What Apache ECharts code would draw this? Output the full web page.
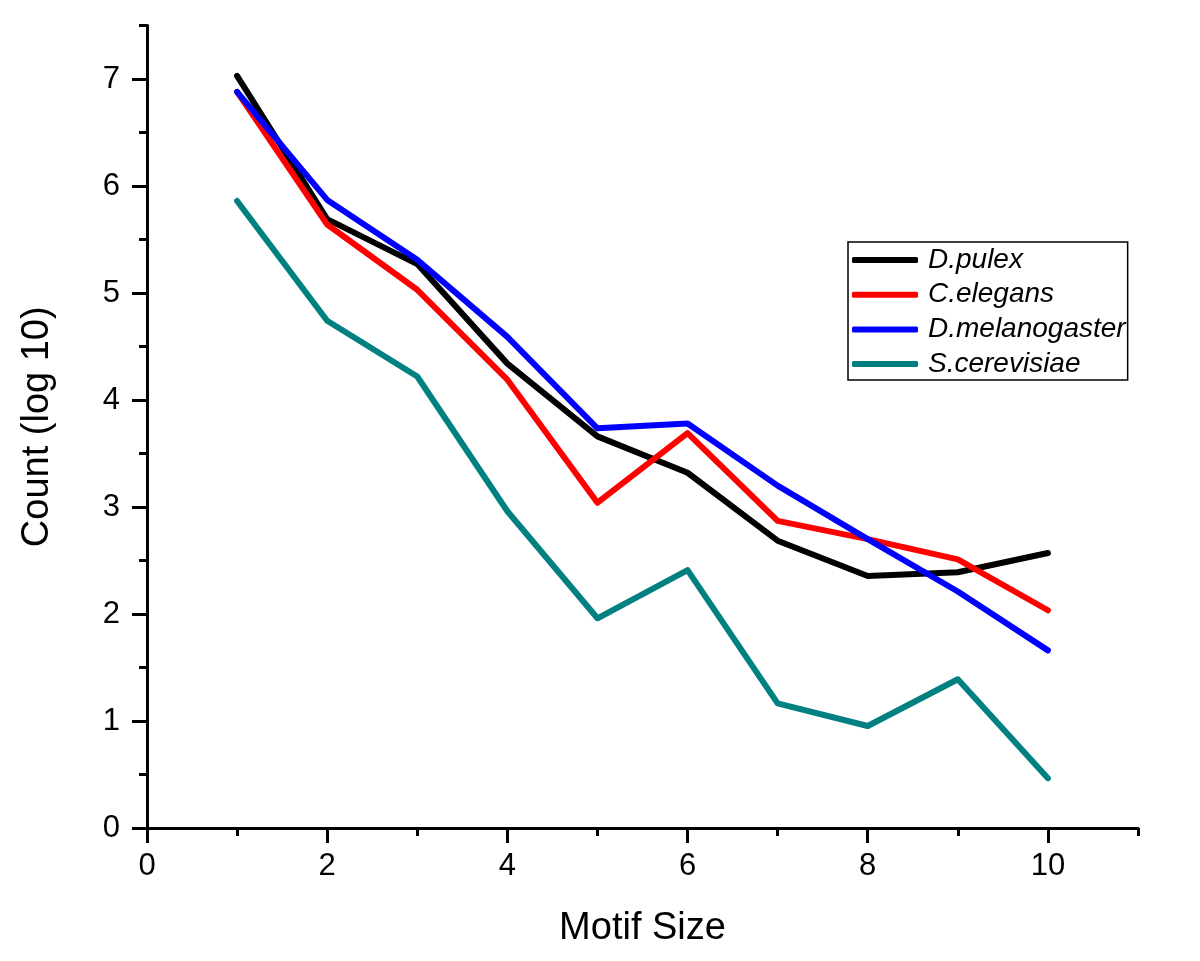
<!DOCTYPE html>
<html>
<head>
<meta charset="utf-8">
<script src="https://cdn.jsdelivr.net/npm/echarts@6/dist/echarts.min.js"></script>
<style>
html,body{margin:0;padding:0;background:#fff;}
#chart{width:1200px;height:961px;}
</style>
</head>
<body>
<div id="chart"></div>
<script>
const motifSize = [1, 2, 3, 4, 5, 6, 7, 8, 9, 10];
const dPulex = [7.03, 5.69, 5.27, 4.34, 3.66, 3.32, 2.685, 2.355, 2.39, 2.57];
const cElegans = [6.88, 5.64, 5.03, 4.19, 3.04, 3.69, 2.87, 2.70, 2.51, 2.035];
const dMelanogaster = [6.88, 5.87, 5.31, 4.59, 3.735, 3.78, 3.20, 2.70, 2.21, 1.66];
const sCerevisiae = [5.86, 4.74, 4.22, 2.96, 1.96, 2.41, 1.165, 0.953, 1.39, 0.465];
const seriesNames = ['D.pulex', 'C.elegans', 'D.melanogaster', 'S.cerevisiae'];
const seriesColors = ['#000000', '#ff0000', '#0000ff', '#008080'];
const xMajorTicks = [0, 2, 4, 6, 8, 10];
const yMajorTicks = [0, 1, 2, 3, 4, 5, 6, 7];

const allData = [dPulex, cElegans, dMelanogaster, sCerevisiae];
const font = 'Liberation Sans, Arial, sans-serif';

const chart = echarts.init(document.getElementById('chart'), null, {renderer: 'canvas'});
const option = {
  backgroundColor: '#ffffff',
  animation: false,
  grid: {left: 147, right: 62, top: 25.5, bottom: 133, containLabel: false},
  legend: {
    orient: 'vertical',
    left: 848,
    top: 242,
    padding: [4, 2, 2, 4],
    itemGap: 6.7,
    itemWidth: 66,
    itemHeight: 6,
    icon: 'roundRect',
    borderColor: '#000',
    borderWidth: 1.5,
    data: seriesNames,
    textStyle: {fontFamily: font, fontSize: 28, fontStyle: 'italic', color: '#000', lineHeight: 28, padding: [0, 0, 0, 5]}
  },
  xAxis: [
    {
      type: 'value', min: 0, max: 11, interval: 1, position: 'bottom',
      name: 'Motif Size', nameLocation: 'middle', nameGap: 82,
      nameTextStyle: {fontFamily: font, fontSize: 38, color: '#000'},
      axisLine: {show: true, onZero: false, lineStyle: {color: '#000', width: 3}},
      axisTick: {show: true, length: 15, customValues: xMajorTicks, lineStyle: {color: '#000', width: 3}},
      axisLabel: {show: true, customValues: xMajorTicks, fontFamily: font, fontSize: 31, color: '#000', margin: 23},
      splitLine: {show: false}
    },
    {
      type: 'value', min: 0, max: 11, interval: 1, position: 'bottom',
      axisLine: {show: false},
      axisTick: {show: true, length: 8, lineStyle: {color: '#000', width: 3}},
      axisLabel: {show: false},
      splitLine: {show: false}
    }
  ],
  yAxis: [
    {
      type: 'value', min: 0, max: 7.5, interval: 1, position: 'left',
      name: 'Count (log 10)', nameLocation: 'middle', nameGap: 90, nameRotate: 90,
      nameTextStyle: {fontFamily: font, fontSize: 38, color: '#000'},
      axisLine: {show: true, onZero: false, lineStyle: {color: '#000', width: 3}},
      axisTick: {show: true, length: 15, customValues: yMajorTicks, lineStyle: {color: '#000', width: 3}},
      axisLabel: {show: true, customValues: yMajorTicks, fontFamily: font, fontSize: 31, color: '#000', margin: 27},
      splitLine: {show: false}
    },
    {
      type: 'value', min: 0, max: 7.5, interval: 0.5, position: 'left',
      axisLine: {show: false},
      axisTick: {show: true, length: 8, lineStyle: {color: '#000', width: 3}},
      axisLabel: {show: false},
      splitLine: {show: false}
    }
  ],
  series: seriesNames.map((name, i) => ({
    name: name,
    type: 'line',
    xAxisIndex: 0,
    yAxisIndex: 0,
    data: motifSize.map((x, j) => [x, allData[i][j]]),
    symbol: 'none',
    showSymbol: false,
    itemStyle: {color: seriesColors[i]},
    lineStyle: {color: seriesColors[i], width: 6, cap: 'round', join: 'round'},
    emphasis: {disabled: true}
  }))
};
chart.setOption(option);
</script>
</body>
</html>
